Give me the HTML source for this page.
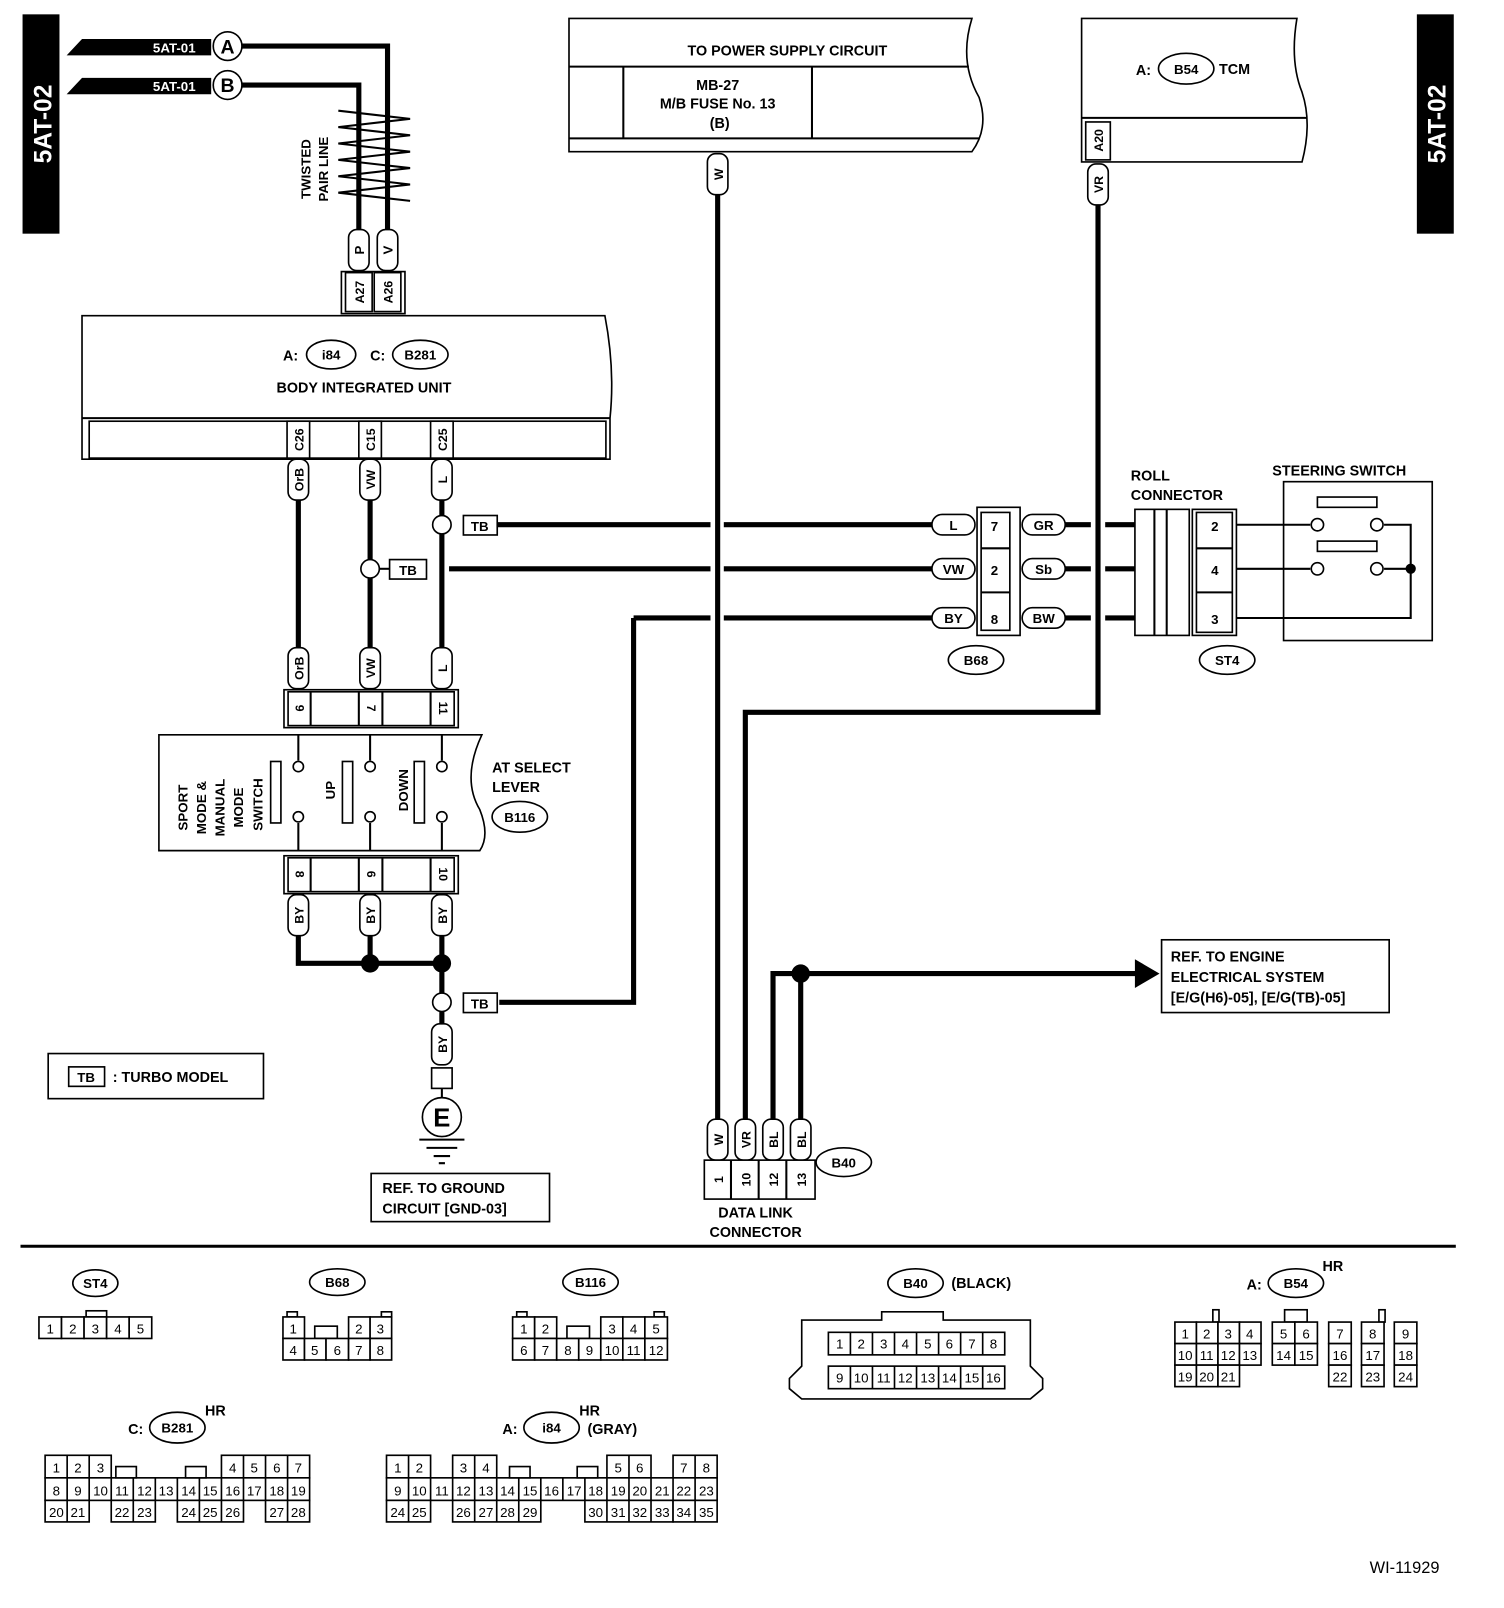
<!DOCTYPE html>
<html><head><meta charset="utf-8"><style>
html,body{margin:0;padding:0;background:#fff}
svg{display:block}
text{font-family:"Liberation Sans",sans-serif;font-weight:bold;fill:#000}
.c{text-anchor:middle}
.n{font-size:13px;font-weight:normal;text-anchor:middle}
.f rect,.o{fill:#fff;stroke:#000;stroke-width:1.6}
.w{stroke:#000;stroke-width:5;fill:none}
.t{stroke:#000;stroke-width:2;fill:none}
</style></head><body>
<svg width="1504" height="1608" viewBox="0 0 1467 1569" preserveAspectRatio="none" xmlns="http://www.w3.org/2000/svg">
<!-- side bars -->
<rect x="22" y="14" width="36" height="214" fill="#000"/>
<text transform="translate(50,121) rotate(-90)" class="c" style="fill:#fff;font-size:24px">5AT-02</text>
<rect x="1382" y="14" width="36" height="214" fill="#000"/>
<text transform="translate(1410,121) rotate(-90)" class="c" style="fill:#fff;font-size:24px">5AT-02</text>

<!-- top-left inputs -->
<polygon points="80,38 206,38 206,54 65,54" fill="#000"/>
<text x="170" y="51" class="c" style="fill:#fff;font-size:13px">5AT-01</text>
<circle cx="222" cy="45" r="14" class="o" stroke-width="2.5"/><text x="222" y="52" class="c" font-size="19">A</text>
<polygon points="80,76 206,76 206,92 65,92" fill="#000"/>
<text x="170" y="89" class="c" style="fill:#fff;font-size:13px">5AT-01</text>
<circle cx="222" cy="83" r="14" class="o" stroke-width="2.5"/><text x="222" y="90" class="c" font-size="19">B</text>
<path class="w" d="M236,45 H378 V225 M236,83 H350 V225"/>
<path class="t" d="M330,108 L400,116 L330,124 L400,132 L330,140 L400,148 L330,156 L400,164 L330,172 L400,180 L330,188 L400,196"/>
<text transform="translate(303,165) rotate(-90)" class="c" font-size="13">TWISTED</text>
<text transform="translate(320,165) rotate(-90)" class="c" font-size="13">PAIR LINE</text>
<g class="f"><rect x="340" y="224" width="20" height="40" rx="8"/><rect x="368" y="224" width="20" height="40" rx="8"/></g>
<text transform="translate(355,244) rotate(-90)" class="c" font-size="13">P</text>
<text transform="translate(383,244) rotate(-90)" class="c" font-size="13">V</text>
<rect x="333" y="265" width="62" height="41" class="o" stroke-width="2"/>
<rect x="337" y="266" width="26" height="38" class="o"/><rect x="365" y="266" width="26" height="38" class="o"/>
<text transform="translate(355,285) rotate(-90)" class="c" font-size="12">A27</text>
<text transform="translate(383,285) rotate(-90)" class="c" font-size="12">A26</text>

<!-- body integrated unit -->
<path d="M80,308 H590 Q600,360 595,408 V448 H80 Z" class="o" stroke-width="2"/>
<path class="t" d="M80,408 H595"/>
<rect x="87" y="411" width="504" height="36" class="o"/>
<text x="276" y="352" font-size="14">A:</text>
<ellipse cx="323" cy="346" rx="24" ry="14" class="o" stroke-width="2"/><text x="323" y="351" class="c" font-size="13">i84</text>
<text x="361" y="352" font-size="14">C:</text>
<ellipse cx="410" cy="346" rx="27" ry="14" class="o" stroke-width="2"/><text x="410" y="351" class="c" font-size="13">B281</text>
<text x="355" y="383" class="c" font-size="14">BODY INTEGRATED UNIT</text>
<g class="f"><rect x="280" y="411" width="22" height="36"/><rect x="350" y="411" width="22" height="36"/><rect x="420" y="411" width="22" height="36"/></g>
<text transform="translate(296,429) rotate(-90)" class="c" font-size="12">C26</text>
<text transform="translate(366,429) rotate(-90)" class="c" font-size="12">C15</text>
<text transform="translate(436,429) rotate(-90)" class="c" font-size="12">C25</text>

<!-- vertical wires BIU to select lever -->
<path class="w" d="M291,488 V632 M361,488 V632 M431,488 V632"/>
<g class="f"><rect x="281" y="448" width="20" height="40" rx="8"/><rect x="351" y="448" width="20" height="40" rx="8"/><rect x="421" y="448" width="20" height="40" rx="8"/>
<rect x="281" y="632" width="20" height="40" rx="8"/><rect x="351" y="632" width="20" height="40" rx="8"/><rect x="421" y="632" width="20" height="40" rx="8"/></g>
<text transform="translate(296,468) rotate(-90)" class="c" font-size="12">OrB</text>
<text transform="translate(366,468) rotate(-90)" class="c" font-size="12">VW</text>
<text transform="translate(436,468) rotate(-90)" class="c" font-size="12">L</text>
<text transform="translate(296,652) rotate(-90)" class="c" font-size="12">OrB</text>
<text transform="translate(366,652) rotate(-90)" class="c" font-size="12">VW</text>
<text transform="translate(436,652) rotate(-90)" class="c" font-size="12">L</text>

<!-- TB branches -->
<path class="w" d="M480,512 H693 M706,512 H910 M438,555 H693 M706,555 H910 M618,603 H693 M706,603 H910 M618,603 V978 H487"/>
<circle cx="431" cy="512" r="9" class="o" stroke-width="2"/>
<rect x="452" y="503" width="33" height="19" class="o" stroke-width="2"/><text x="468" y="518" class="c" font-size="13">TB</text>
<circle cx="361" cy="555" r="9" class="o" stroke-width="2"/>
<rect x="380" y="546" width="36" height="19" class="o" stroke-width="2"/><text x="398" y="561" class="c" font-size="13">TB</text>
<path class="t" d="M370,555 H380"/>

<!-- B68 -->
<rect x="953" y="495" width="42" height="125" class="o" stroke-width="2"/>
<rect x="957" y="500" width="28" height="115" class="o"/>
<path class="t" d="M957,535 H985 M957,578 H985"/>
<text x="970" y="518" class="c" font-size="13">7</text><text x="970" y="561" class="c" font-size="13">2</text><text x="970" y="609" class="c" font-size="13">8</text>
<g class="f"><rect x="909" y="502" width="42" height="20" rx="10"/><rect x="909" y="545" width="42" height="20" rx="10"/><rect x="909" y="593" width="42" height="20" rx="10"/>
<rect x="997" y="502" width="42" height="20" rx="10"/><rect x="997" y="545" width="42" height="20" rx="10"/><rect x="997" y="593" width="42" height="20" rx="10"/></g>
<text x="930" y="517" class="c" font-size="13">L</text><text x="930" y="560" class="c" font-size="13">VW</text><text x="930" y="608" class="c" font-size="13">BY</text>
<text x="1018" y="517" class="c" font-size="13">GR</text><text x="1018" y="560" class="c" font-size="13">Sb</text><text x="1018" y="608" class="c" font-size="13">BW</text>
<ellipse cx="952" cy="644" rx="27" ry="14" class="o" stroke-width="2"/><text x="952" y="649" class="c" font-size="13">B68</text>
<path class="w" d="M1039,512 H1064 M1078,512 H1107 M1039,555 H1064 M1078,555 H1107 M1039,603 H1064 M1078,603 H1107"/>

<!-- roll connector -->
<text x="1103" y="469" font-size="14">ROLL</text><text x="1103" y="488" font-size="14">CONNECTOR</text>
<rect x="1107" y="497" width="53" height="123" class="o" stroke-width="2"/>
<path class="t" d="M1126,497 V620 M1138,497 V620"/>
<rect x="1163" y="497" width="43" height="123" class="o" stroke-width="2"/>
<rect x="1167" y="500" width="35" height="117" class="o"/>
<path class="t" d="M1167,535 H1202 M1167,578 H1202"/>
<text x="1185" y="518" class="c" font-size="13">2</text><text x="1185" y="561" class="c" font-size="13">4</text><text x="1185" y="609" class="c" font-size="13">3</text>
<ellipse cx="1197" cy="644" rx="27" ry="14" class="o" stroke-width="2"/><text x="1197" y="649" class="c" font-size="13">ST4</text>

<!-- steering switch -->
<text x="1241" y="464" font-size="14">STEERING SWITCH</text>
<rect x="1252" y="470" width="145" height="155" class="o" stroke-width="2"/>
<path class="t" d="M1206,512 H1278 M1206,555 H1278 M1206,603 H1376 V512 H1350 M1350,555 H1376"/>
<circle cx="1285" cy="512" r="6" class="o" stroke-width="2"/><circle cx="1343" cy="512" r="6" class="o" stroke-width="2"/>
<circle cx="1285" cy="555" r="6" class="o" stroke-width="2"/><circle cx="1343" cy="555" r="6" class="o" stroke-width="2"/>
<rect x="1285" y="485" width="58" height="10" class="o" stroke-width="2"/>
<rect x="1285" y="528" width="58" height="10" class="o" stroke-width="2"/>
<circle cx="1376" cy="555" r="5" fill="#000"/>

<!-- power supply -->
<path d="M555,18 H948 Q935,60 955,95 Q965,125 948,148 H555 Z" class="o" stroke-width="2"/>
<path class="t" d="M555,65 H945 M555,135 H955"/>
<path class="t" d="M608,65 V135 M792,65 V135"/>
<text x="768" y="54" class="c" font-size="14">TO POWER SUPPLY CIRCUIT</text>
<text x="700" y="88" class="c" font-size="14">MB-27</text>
<text x="700" y="106" class="c" font-size="14">M/B FUSE No. 13</text>
<text x="702" y="125" class="c" font-size="14">(B)</text>
<path class="w" d="M700,190 V1095"/>
<rect x="690" y="150" width="20" height="40" rx="8" class="o"/>
<text transform="translate(705,170) rotate(-90)" class="c" font-size="12">W</text>

<!-- TCM -->
<path d="M1055,18 H1265 Q1258,60 1270,90 Q1280,120 1270,158 H1055 Z" class="o" stroke-width="2"/>
<path class="t" d="M1055,115 H1275"/>
<rect x="1059" y="119" width="24" height="37" class="o"/>
<text transform="translate(1076,137) rotate(-90)" class="c" font-size="12">A20</text>
<text x="1108" y="73" font-size="14">A:</text>
<ellipse cx="1157" cy="67" rx="27" ry="15" class="o" stroke-width="2"/><text x="1157" y="72" class="c" font-size="13">B54</text>
<text x="1189" y="72" font-size="14">TCM</text>
<path class="w" d="M1071,200 V695 H727 V1095"/>
<rect x="1061" y="160" width="20" height="40" rx="8" class="o"/>
<text transform="translate(1076,180) rotate(-90)" class="c" font-size="12">VR</text>

<!-- AT select lever -->
<rect x="277" y="673" width="170" height="37" class="o" stroke-width="2"/>
<rect x="281" y="675" width="162" height="33" class="o"/>
<path class="t" d="M303,675 V708 M350,675 V708 M373,675 V708 M420,675 V708"/>
<text transform="translate(292,691) rotate(90)" class="c" font-size="12" dy="4">9</text>
<text transform="translate(362,691) rotate(90)" class="c" font-size="12" dy="4">7</text>
<text transform="translate(432,691) rotate(90)" class="c" font-size="12" dy="4">11</text>
<path d="M155,717 H470 Q450,760 468,790 Q478,815 468,830 H155 Z" class="o" stroke-width="2"/>
<path class="t" d="M291,717 V742 M361,717 V742 M431,717 V742 M291,803 V830 M361,803 V830 M431,803 V830"/>
<circle cx="291" cy="748" r="5" class="o" stroke-width="2"/><circle cx="361" cy="748" r="5" class="o" stroke-width="2"/><circle cx="431" cy="748" r="5" class="o" stroke-width="2"/>
<circle cx="291" cy="797" r="5" class="o" stroke-width="2"/><circle cx="361" cy="797" r="5" class="o" stroke-width="2"/><circle cx="431" cy="797" r="5" class="o" stroke-width="2"/>
<rect x="264" y="743" width="10" height="60" class="o" stroke-width="2"/>
<rect x="334" y="743" width="10" height="60" class="o" stroke-width="2"/>
<rect x="404" y="743" width="10" height="60" class="o" stroke-width="2"/>
<text transform="translate(183,788) rotate(-90)" class="c" font-size="13">SPORT</text>
<text transform="translate(201,788) rotate(-90)" class="c" font-size="13">MODE &amp;</text>
<text transform="translate(219,788) rotate(-90)" class="c" font-size="13">MANUAL</text>
<text transform="translate(237,788) rotate(-90)" class="c" font-size="13">MODE</text>
<text transform="translate(256,785) rotate(-90)" class="c" font-size="13">SWITCH</text>
<text transform="translate(327,771) rotate(-90)" class="c" font-size="13">UP</text>
<text transform="translate(398,771) rotate(-90)" class="c" font-size="13">DOWN</text>
<text x="480" y="754" font-size="14">AT SELECT</text><text x="480" y="773" font-size="14">LEVER</text>
<ellipse cx="507" cy="797" rx="27" ry="15" class="o" stroke-width="2"/><text x="507" y="802" class="c" font-size="13">B116</text>
<rect x="277" y="835" width="170" height="37" class="o" stroke-width="2"/>
<rect x="281" y="837" width="162" height="33" class="o"/>
<path class="t" d="M303,837 V870 M350,837 V870 M373,837 V870 M420,837 V870"/>
<text transform="translate(292,853) rotate(90)" class="c" font-size="12" dy="4">8</text>
<text transform="translate(362,853) rotate(90)" class="c" font-size="12" dy="4">6</text>
<text transform="translate(432,853) rotate(90)" class="c" font-size="12" dy="4">10</text>
<path class="w" d="M291,913 V940 H431 M361,913 V940 M431,913 V969 M431,987 V1000"/>
<g class="f"><rect x="281" y="873" width="20" height="40" rx="8"/><rect x="351" y="873" width="20" height="40" rx="8"/><rect x="421" y="873" width="20" height="40" rx="8"/><rect x="421" y="999" width="20" height="40" rx="8"/></g>
<text transform="translate(296,893) rotate(-90)" class="c" font-size="12">BY</text>
<text transform="translate(366,893) rotate(-90)" class="c" font-size="12">BY</text>
<text transform="translate(436,893) rotate(-90)" class="c" font-size="12">BY</text>
<text transform="translate(436,1019) rotate(-90)" class="c" font-size="12">BY</text>
<circle cx="361" cy="940" r="9" fill="#000"/><circle cx="431" cy="940" r="9" fill="#000"/>
<circle cx="431" cy="978" r="9" class="o" stroke-width="2"/>
<rect x="452" y="969" width="33" height="19" class="o" stroke-width="2"/><text x="468" y="984" class="c" font-size="13">TB</text>
<rect x="421" y="1042" width="20" height="20" class="o" stroke-width="2"/>
<path class="t" d="M431,1062 V1072"/>
<circle cx="431" cy="1090" r="19" class="o" stroke-width="3"/><text x="431" y="1099" class="c" font-size="25">E</text>
<path class="t" d="M409,1112 H453 M416,1120 H446 M423,1128 H439 M428,1135 H434"/>

<!-- legend boxes -->
<rect x="47" y="1028" width="210" height="44" class="o" stroke-width="2"/>
<rect x="67" y="1041" width="35" height="19" class="o" stroke-width="2"/><text x="84" y="1056" class="c" font-size="13">TB</text>
<text x="110" y="1056" font-size="14">: TURBO MODEL</text>
<rect x="362" y="1145" width="174" height="47" class="o" stroke-width="2"/>
<text x="373" y="1164" font-size="14">REF. TO GROUND</text><text x="373" y="1184" font-size="14">CIRCUIT [GND-03]</text>

<!-- data link -->
<path class="w" d="M754,1095 V950 H1110 M781,1095 V950"/>
<polygon points="1107,936 1131,950 1107,964" fill="#000"/>
<circle cx="781" cy="950" r="9" fill="#000"/>
<g class="f"><rect x="690" y="1092" width="20" height="40" rx="8"/><rect x="717" y="1092" width="20" height="40" rx="8"/><rect x="744" y="1092" width="20" height="40" rx="8"/><rect x="771" y="1092" width="20" height="40" rx="8"/></g>
<text transform="translate(705,1112) rotate(-90)" class="c" font-size="12">W</text>
<text transform="translate(732,1112) rotate(-90)" class="c" font-size="12">VR</text>
<text transform="translate(759,1112) rotate(-90)" class="c" font-size="12">BL</text>
<text transform="translate(786,1112) rotate(-90)" class="c" font-size="12">BL</text>
<rect x="687" y="1132" width="108" height="38" class="o" stroke-width="2"/>
<path class="t" d="M713,1132 V1170 M740,1132 V1170 M767,1132 V1170"/>
<text transform="translate(705,1151) rotate(-90)" class="c" font-size="12">1</text>
<text transform="translate(732,1151) rotate(-90)" class="c" font-size="12">10</text>
<text transform="translate(759,1151) rotate(-90)" class="c" font-size="12">12</text>
<text transform="translate(786,1151) rotate(-90)" class="c" font-size="12">13</text>
<ellipse cx="823" cy="1134" rx="27" ry="14" class="o" stroke-width="2"/><text x="823" y="1139" class="c" font-size="13">B40</text>
<text x="737" y="1188" class="c" font-size="14">DATA LINK</text><text x="737" y="1207" class="c" font-size="14">CONNECTOR</text>
<rect x="1133" y="917" width="222" height="71" class="o" stroke-width="2"/>
<text x="1142" y="938" font-size="14">REF. TO ENGINE</text>
<text x="1142" y="958" font-size="14">ELECTRICAL SYSTEM</text>
<text x="1142" y="978" font-size="14">[E/G(H6)-05], [E/G(TB)-05]</text>

<path d="M20,1216 H1420" stroke="#000" stroke-width="3"/>

<!-- ST4 -->
<ellipse cx="93" cy="1252" rx="22" ry="13" class="o" stroke-width="2"/><text x="93" y="1257" class="c" font-size="13">ST4</text>
<g class="f"><rect x="84" y="1279" width="20" height="6"/><rect x="38" y="1285" width="22" height="21"/><rect x="60" y="1285" width="22" height="21"/><rect x="82" y="1285" width="22" height="21"/><rect x="104" y="1285" width="22" height="21"/><rect x="126" y="1285" width="22" height="21"/></g>
<text class="n" x="49" y="1301">1</text><text class="n" x="71" y="1301">2</text><text class="n" x="93" y="1301">3</text><text class="n" x="115" y="1301">4</text><text class="n" x="137" y="1301">5</text>

<!-- B68 -->
<ellipse cx="329" cy="1251" rx="27" ry="13" class="o" stroke-width="2"/><text x="329" y="1256" class="c" font-size="13">B68</text>
<g class="f"><rect x="280" y="1280" width="10" height="5"/><rect x="372" y="1280" width="10" height="5"/><rect x="307" y="1294" width="22" height="12"/>
<rect x="276" y="1285" width="21" height="21"/><rect x="340" y="1285" width="21" height="21"/><rect x="361" y="1285" width="21" height="21"/>
<rect x="276" y="1306" width="21" height="21"/><rect x="297" y="1306" width="21" height="21"/><rect x="318" y="1306" width="22" height="21"/><rect x="340" y="1306" width="21" height="21"/><rect x="361" y="1306" width="21" height="21"/></g>
<text class="n" x="286" y="1301">1</text><text class="n" x="350" y="1301">2</text><text class="n" x="371" y="1301">3</text>
<text class="n" x="286" y="1322">4</text><text class="n" x="307" y="1322">5</text><text class="n" x="329" y="1322">6</text><text class="n" x="350" y="1322">7</text><text class="n" x="371" y="1322">8</text>

<!-- B116 -->
<ellipse cx="576" cy="1251" rx="27" ry="13" class="o" stroke-width="2"/><text x="576" y="1256" class="c" font-size="13">B116</text>
<g class="f"><rect x="504" y="1280" width="10" height="5"/><rect x="638" y="1280" width="10" height="5"/><rect x="553" y="1294" width="22" height="12"/>
<rect x="500" y="1285" width="21.5" height="21"/><rect x="521.5" y="1285" width="21.5" height="21"/><rect x="586" y="1285" width="21.5" height="21"/><rect x="607.5" y="1285" width="21.5" height="21"/><rect x="629" y="1285" width="22" height="21"/>
<rect x="500" y="1306" width="21.5" height="21"/><rect x="521.5" y="1306" width="21.5" height="21"/><rect x="543" y="1306" width="21.5" height="21"/><rect x="564.5" y="1306" width="21.5" height="21"/><rect x="586" y="1306" width="21.5" height="21"/><rect x="607.5" y="1306" width="21.5" height="21"/><rect x="629" y="1306" width="22" height="21"/></g>
<text class="n" x="511" y="1301">1</text><text class="n" x="532" y="1301">2</text><text class="n" x="597" y="1301">3</text><text class="n" x="618" y="1301">4</text><text class="n" x="640" y="1301">5</text>
<text class="n" x="511" y="1322">6</text><text class="n" x="532" y="1322">7</text><text class="n" x="554" y="1322">8</text><text class="n" x="575" y="1322">9</text><text class="n" x="597" y="1322">10</text><text class="n" x="618" y="1322">11</text><text class="n" x="640" y="1322">12</text>

<!-- B40 -->
<ellipse cx="893" cy="1252" rx="27" ry="14" class="o" stroke-width="2"/><text x="893" y="1257" class="c" font-size="13">B40</text>
<text x="928" y="1257" font-size="14">(BLACK)</text>
<path d="M860,1288 V1280 H920 V1288 H1005 V1333 L1017,1345 V1355 L1005,1365 H782 L770,1355 V1345 L782,1333 V1288 Z" class="o" stroke-width="2"/>
<g class="f"><rect x="808" y="1300" width="172" height="22"/><rect x="808" y="1333" width="172" height="22"/></g>
<path d="M829.5,1300 V1322 M851,1300 V1322 M872.5,1300 V1322 M894,1300 V1322 M915.5,1300 V1322 M937,1300 V1322 M958.5,1300 V1322 M829.5,1333 V1355 M851,1333 V1355 M872.5,1333 V1355 M894,1333 V1355 M915.5,1333 V1355 M937,1333 V1355 M958.5,1333 V1355" stroke="#000" stroke-width="1.6"/>
<text class="n" x="819" y="1316">1</text><text class="n" x="840" y="1316">2</text><text class="n" x="862" y="1316">3</text><text class="n" x="883" y="1316">4</text><text class="n" x="905" y="1316">5</text><text class="n" x="926" y="1316">6</text><text class="n" x="948" y="1316">7</text><text class="n" x="969" y="1316">8</text>
<text class="n" x="819" y="1349">9</text><text class="n" x="840" y="1349">10</text><text class="n" x="862" y="1349">11</text><text class="n" x="883" y="1349">12</text><text class="n" x="905" y="1349">13</text><text class="n" x="926" y="1349">14</text><text class="n" x="948" y="1349">15</text><text class="n" x="969" y="1349">16</text>

<!-- B54 -->
<text x="1216" y="1258" font-size="14">A:</text>
<ellipse cx="1264" cy="1252" rx="27" ry="14" class="o" stroke-width="2"/><text x="1264" y="1257" class="c" font-size="13">B54</text>
<text x="1290" y="1240" font-size="14">HR</text>
<g class="f"><rect x="1183" y="1278" width="6" height="12"/><rect x="1253" y="1278" width="22" height="12"/><rect x="1345" y="1278" width="6" height="12"/>
<rect x="1146" y="1290" width="21" height="21"/><rect x="1167" y="1290" width="21" height="21"/><rect x="1188" y="1290" width="21" height="21"/><rect x="1209" y="1290" width="21" height="21"/>
<rect x="1241" y="1290" width="22" height="21"/><rect x="1263" y="1290" width="22" height="21"/><rect x="1296" y="1290" width="22" height="21"/><rect x="1328" y="1290" width="22" height="21"/><rect x="1360" y="1290" width="22" height="21"/>
<rect x="1146" y="1311" width="21" height="21"/><rect x="1167" y="1311" width="21" height="21"/><rect x="1188" y="1311" width="21" height="21"/><rect x="1209" y="1311" width="21" height="21"/>
<rect x="1241" y="1311" width="22" height="21"/><rect x="1263" y="1311" width="22" height="21"/><rect x="1296" y="1311" width="22" height="21"/><rect x="1328" y="1311" width="22" height="21"/><rect x="1360" y="1311" width="22" height="21"/>
<rect x="1146" y="1332" width="21" height="21"/><rect x="1167" y="1332" width="21" height="21"/><rect x="1188" y="1332" width="21" height="21"/>
<rect x="1296" y="1332" width="22" height="21"/><rect x="1328" y="1332" width="22" height="21"/><rect x="1360" y="1332" width="22" height="21"/></g>
<text class="n" x="1156" y="1306">1</text><text class="n" x="1177" y="1306">2</text><text class="n" x="1198" y="1306">3</text><text class="n" x="1219" y="1306">4</text><text class="n" x="1252" y="1306">5</text><text class="n" x="1274" y="1306">6</text><text class="n" x="1307" y="1306">7</text><text class="n" x="1339" y="1306">8</text><text class="n" x="1371" y="1306">9</text>
<text class="n" x="1156" y="1327">10</text><text class="n" x="1177" y="1327">11</text><text class="n" x="1198" y="1327">12</text><text class="n" x="1219" y="1327">13</text><text class="n" x="1252" y="1327">14</text><text class="n" x="1274" y="1327">15</text><text class="n" x="1307" y="1327">16</text><text class="n" x="1339" y="1327">17</text><text class="n" x="1371" y="1327">18</text>
<text class="n" x="1156" y="1348">19</text><text class="n" x="1177" y="1348">20</text><text class="n" x="1198" y="1348">21</text><text class="n" x="1307" y="1348">22</text><text class="n" x="1339" y="1348">23</text><text class="n" x="1371" y="1348">24</text>

<!-- B281 -->
<text x="125" y="1399" font-size="14">C:</text>
<ellipse cx="173" cy="1393" rx="27" ry="15" class="o" stroke-width="2"/><text x="173" y="1398" class="c" font-size="13">B281</text>
<text x="200" y="1381" font-size="14">HR</text>
<g class="f"><rect x="44" y="1420" width="64.5" height="22"/><rect x="216" y="1420" width="86" height="22"/><rect x="44" y="1442" width="258" height="22"/>
<rect x="44" y="1464" width="43" height="21"/><rect x="108.5" y="1464" width="43" height="21"/><rect x="173" y="1464" width="64.5" height="21"/><rect x="259" y="1464" width="43" height="21"/>
<rect x="113" y="1431" width="20" height="11"/><rect x="181" y="1431" width="20" height="11"/></g>
<path d="M65.5,1420 V1485 M87,1420 V1464 M130,1442 V1485 M151.5,1442 V1464 M173,1442 V1464 M194.5,1442 V1485 M216,1442 V1485 M237.5,1420 V1464 M259,1420 V1464 M280.5,1420 V1485 M108.5,1442 V1464" stroke="#000" stroke-width="1.6"/>
<text class="n" x="55" y="1437">1</text><text class="n" x="76" y="1437">2</text><text class="n" x="98" y="1437">3</text><text class="n" x="227" y="1437">4</text><text class="n" x="248" y="1437">5</text><text class="n" x="270" y="1437">6</text><text class="n" x="291" y="1437">7</text>
<text class="n" x="55" y="1459">8</text><text class="n" x="76" y="1459">9</text><text class="n" x="98" y="1459">10</text><text class="n" x="119" y="1459">11</text><text class="n" x="141" y="1459">12</text><text class="n" x="162" y="1459">13</text><text class="n" x="184" y="1459">14</text><text class="n" x="205" y="1459">15</text><text class="n" x="227" y="1459">16</text><text class="n" x="248" y="1459">17</text><text class="n" x="270" y="1459">18</text><text class="n" x="291" y="1459">19</text>
<text class="n" x="55" y="1480">20</text><text class="n" x="76" y="1480">21</text><text class="n" x="119" y="1480">22</text><text class="n" x="141" y="1480">23</text><text class="n" x="184" y="1480">24</text><text class="n" x="205" y="1480">25</text><text class="n" x="227" y="1480">26</text><text class="n" x="270" y="1480">27</text><text class="n" x="291" y="1480">28</text>

<!-- i84 -->
<text x="490" y="1399" font-size="14">A:</text>
<ellipse cx="538" cy="1393" rx="27" ry="15" class="o" stroke-width="2"/><text x="538" y="1398" class="c" font-size="13">i84</text>
<text x="565" y="1381" font-size="14">HR</text>
<text x="573" y="1399" font-size="14">(GRAY)</text>
<g class="f"><rect x="377" y="1420" width="43" height="22"/><rect x="441.5" y="1420" width="43" height="22"/><rect x="592" y="1420" width="43" height="22"/><rect x="656.5" y="1420" width="43" height="22"/>
<rect x="377" y="1442" width="322.5" height="22"/>
<rect x="377" y="1464" width="43" height="21"/><rect x="441.5" y="1464" width="86" height="21"/><rect x="570.5" y="1464" width="86" height="21"/><rect x="656.5" y="1464" width="43" height="21"/>
<rect x="497" y="1431" width="20" height="11"/><rect x="563" y="1431" width="20" height="11"/></g>
<path d="M398.5,1420 V1485 M420,1442 V1464 M441.5,1442 V1464 M463,1420 V1485 M484.5,1442 V1485 M506,1442 V1485 M527.5,1442 V1464 M549,1442 V1464 M570.5,1442 V1464 M592,1442 V1485 M613.5,1420 V1485 M635,1442 V1485 M656.5,1442 V1464 M678,1420 V1485" stroke="#000" stroke-width="1.6"/>
<text class="n" x="388" y="1437">1</text><text class="n" x="409" y="1437">2</text><text class="n" x="452" y="1437">3</text><text class="n" x="474" y="1437">4</text><text class="n" x="603" y="1437">5</text><text class="n" x="624" y="1437">6</text><text class="n" x="667" y="1437">7</text><text class="n" x="689" y="1437">8</text>
<text class="n" x="388" y="1459">9</text><text class="n" x="409" y="1459">10</text><text class="n" x="431" y="1459">11</text><text class="n" x="452" y="1459">12</text><text class="n" x="474" y="1459">13</text><text class="n" x="495" y="1459">14</text><text class="n" x="517" y="1459">15</text><text class="n" x="538" y="1459">16</text><text class="n" x="560" y="1459">17</text><text class="n" x="581" y="1459">18</text><text class="n" x="603" y="1459">19</text><text class="n" x="624" y="1459">20</text><text class="n" x="646" y="1459">21</text><text class="n" x="667" y="1459">22</text><text class="n" x="689" y="1459">23</text>
<text class="n" x="388" y="1480">24</text><text class="n" x="409" y="1480">25</text><text class="n" x="452" y="1480">26</text><text class="n" x="474" y="1480">27</text><text class="n" x="495" y="1480">28</text><text class="n" x="517" y="1480">29</text><text class="n" x="581" y="1480">30</text><text class="n" x="603" y="1480">31</text><text class="n" x="624" y="1480">32</text><text class="n" x="646" y="1480">33</text><text class="n" x="667" y="1480">34</text><text class="n" x="689" y="1480">35</text>

<text x="1370" y="1535" class="c" style="font-size:16px;font-weight:normal">WI-11929</text>
</svg>
</body></html>
